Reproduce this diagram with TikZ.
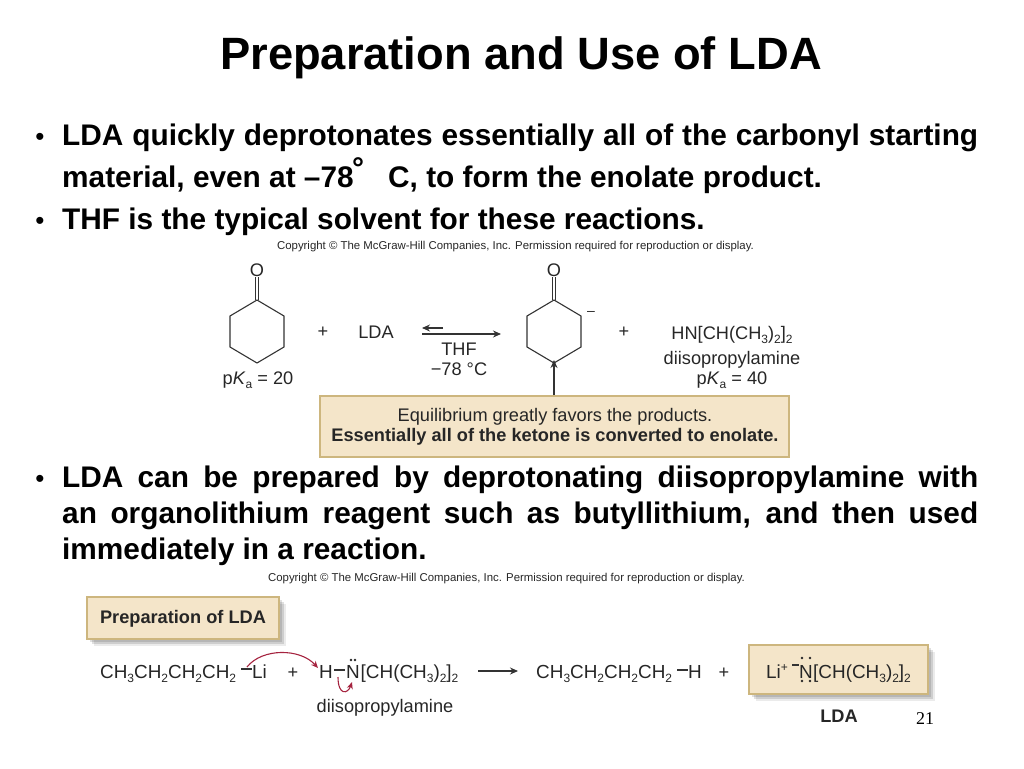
\documentclass[tikz,border=0pt]{standalone}
\usepackage{fontspec}
\setmainfont{Liberation Sans}
\newfontfamily\slidenumfont{Liberation Serif}
\usetikzlibrary{arrows.meta}
\usetikzlibrary{shadows}

\definecolor{boxtan}{HTML}{F4E5C9}
\definecolor{boxedge}{HTML}{CDB67E}
\definecolor{curlyred}{HTML}{A5233F}
\newcommand{\subs}[1]{\raisebox{-.24em}{\fontsize{12}{12}\selectfont #1}}
\newcommand{\pKa}[1]{p\textit{K}\subs{a} = #1}
\newcommand{\dimethyl}{[CH(CH\subs{3})\subs{2}]\subs{2}}

\tikzset{
	titletext/.style={anchor=base,inner sep=0pt,font=\fontsize{45.3}{45.3}\selectfont\bfseries},
	bodytext/.style={anchor=base west,inner sep=0pt,font=\fontsize{29.8}{29.8}\selectfont\bfseries},
	dot/.style={anchor=base,inner sep=0pt,font=\fontsize{26}{26}\selectfont},
	small/.style={anchor=base,inner sep=0pt,text=black!85,font=\fontsize{11.4}{11.4}\selectfont},
	chem/.style={anchor=base,inner sep=0pt,text=black!85,font=\fontsize{18.2}{18.2}\selectfont},
	chemrow/.style={anchor=base west,inner sep=0pt,text=black!85,font=\fontsize{18.9}{18.9}\selectfont},
	chembold/.style={chem,font=\fontsize{18.2}{18.2}\selectfont\bfseries},
	bond/.style={draw=black!80,line width=1.1pt},
	react/.style={bond,-{Stealth[length=8pt,width=7pt]}},
	curly/.style={draw=curlyred,line width=1.1pt,-{Stealth[length=7pt,width=6pt]}},
	pair/.style={circle,fill=black!85,inner sep=0pt,minimum size=2.6pt},
	tanbox/.style={fill=boxtan,draw=boxedge,line width=2pt},
	softshadow/.style={
		general shadow={shadow xshift=3pt,shadow yshift=-3pt,fill=black,opacity=.12},
		general shadow={shadow xshift=5pt,shadow yshift=-5pt,fill=black,opacity=.12},
		general shadow={shadow xshift=7pt,shadow yshift=-7pt,fill=black,opacity=.08}}
}

\begin{document}
\begin{tikzpicture}[x=1pt,y=-1pt]
	\useasboundingbox (0,0) rectangle (1024,768);
	
	\node[titletext] (title) at (521,70) {Preparation and Use of LDA};
	
	% bullets
	\node[dot] (bulleta) at (40,145) {•};
	\node[dot] (bulletb) at (40,229) {•};
	\node[dot] (bulletc) at (40,487) {•};
	
	\node[bodytext] (linea) at (62,145) {\makebox[916pt][s]{LDA quickly deprotonates essentially all of the carbonyl starting}};
	\node[bodytext] (lineb) at (62,187) {material, even at –78};
	\node[bodytext,font=\fontsize{30}{30}\selectfont\bfseries] (degree) at (352,178) {°};
	\node[bodytext] (linebb) at (388,187) {C, to form the enolate product.};
	\node[bodytext] (linec) at (62,229) {THF is the typical solvent for these reactions.};
	\node[bodytext] (lined) at (62,487) {\makebox[916pt][s]{LDA can be prepared by deprotonating diisopropylamine with}};
	\node[bodytext] (linee) at (62,523) {\makebox[916pt][s]{an organolithium reagent such as butyllithium, and then used}};
	\node[bodytext] (linef) at (62,559) {immediately in a reaction.};
	
	\node[small] (copya) at (515.5,249) {Copyright © The McGraw-Hill Companies, Inc. Permission required for reproduction or display.};
	\node[small] (copyb) at (506.5,581) {Copyright © The McGraw-Hill Companies, Inc. Permission required for reproduction or display.};
	
	% rings
	\foreach \ring/\cx in {ketone/257,enolate/554}{
		\node[chem] (\ring O) at (\cx,276) {O};
		\coordinate (\ring a) at (\cx,300);
		\coordinate (\ring b) at (\cx+27,316);
		\coordinate (\ring c) at (\cx+27,347);
		\coordinate (\ring d) at (\cx,363);
		\coordinate (\ring e) at (\cx-27,347);
		\coordinate (\ring f) at (\cx-27,316);
		\draw[bond] (\ring a) -- (\ring b) -- (\ring c) -- (\ring d) -- (\ring e) -- (\ring f) -- cycle;
		\draw[bond] ([xshift=-1.8pt]\ring a) -- ([xshift=-1.8pt,yshift=-1pt]\ring O.south);
		\draw[bond] ([xshift=1.8pt]\ring a) -- ([xshift=1.8pt,yshift=-1pt]\ring O.south);
	}
	\node[chem,font=\fontsize{14}{14}\selectfont] (minus) at (591,315) {–};
	
	% upper reaction
	\node[chem] (pkaa) at (258,384) {\pKa{20}};
	\node[chem] (plusa) at (323,337) {+};
	\node[chem] (lda) at (376,338) {LDA};
	\coordinate (eqleft) at (422,334);
	\coordinate (eqright) at (501,334);
	\coordinate (backright) at (443,328);
	\coordinate (backleft) at (422,328);
	\draw[react] (eqleft) -- (eqright);
	\draw[react] (backright) -- (backleft);
	\node[chem] (thf) at (459,355) {THF};
	\node[chem] (temp) at (459,375) {−78 °C};
	\node[chem] (plusb) at (624,337) {+};
	\node[chem] (amine) at (732,339) {HN\dimethyl};
	\node[chem] (aminename) at (732,364) {diisopropylamine};
	\node[chem] (pkab) at (732,384) {\pKa{40}};
	
	\node[tanbox,minimum width=469pt,minimum height=61pt,inner sep=0pt] (eqbox) at (554.5,426.5) {};
	\node[chem] (eqtexta) at (555,421) {Equilibrium greatly favors the products.};
	\node[chembold] (eqtextb) at (555,441) {Essentially all of the ketone is converted to enolate.};
	\draw[react] (eqbox.north -| enolated) -- ([yshift=3pt]enolated);
	
	% preparation
	\node[tanbox,softshadow,minimum width=192pt,minimum height=42pt,inner sep=0pt] (prepbox) at (183,618) {};
	\node[chembold] (preptext) at (183,623) {Preparation of LDA};
	
	\node[chemrow] (butyl) at (100,678) {CH\subs{3}CH\subs{2}CH\subs{2}CH\subs{2}};
	\coordinate (libonda) at (241,669);
	\coordinate (libondb) at (252,669);
	\coordinate (curlystart) at (247,667);
	\draw[bond] (libonda) -- (libondb);
	\node[chemrow] (li) at (252,678) {Li};
	\node[chem] (plusc) at (293,678) {+};
	\node[chemrow] (hatom) at (319,678) {H};
	\coordinate (hbonda) at (334,670);
	\coordinate (hbondb) at (345,670);
	\draw[bond] (hbonda) -- (hbondb);
	\node[chemrow] (natom) at (346,678) {N};
	\node[chemrow] (rest) at (360.5,678) {\dimethyl};
	\node[pair] (paira) at (351,660) {};
	\node[pair] (pairb) at (355,660) {};
	\node[chem] (aminelabel) at (385,712) {diisopropylamine};
	\draw[curly] (curlystart) .. controls (262,648) and (300,648) .. (318,668);
	\draw[curly] (338,677) .. controls (338,696) and (348,694) .. (352,682);
	
	\coordinate (arrowa) at (478,671);
	\coordinate (arrowb) at (518,671);
	\draw[react] (arrowa) -- (arrowb);
	
	\node[chemrow] (butane) at (536,678) {CH\subs{3}CH\subs{2}CH\subs{2}CH\subs{2}};
	\coordinate (hbondc) at (677,670);
	\coordinate (hbondd) at (688,670);
	\draw[bond] (hbondc) -- (hbondd);
	\node[chemrow] (hend) at (688,678) {H};
	\node[chem] (plusd) at (724,678) {+};
	
	\node[tanbox,softshadow,minimum width=179pt,minimum height=49pt,inner sep=0pt] (ldabox) at (838.5,669.5) {};
	\node[chemrow] (lithium) at (766,678) {Li\raisebox{.35em}{\fontsize{12}{12}\selectfont +}};
	\coordinate (ldabonda) at (792,665);
	\coordinate (ldabondb) at (799,665);
	\draw[bond] (ldabonda) -- (ldabondb);
	\node[chemrow] (ldan) at (799,678) {N};
	\node[chemrow] (ldarest) at (813,678) {\dimethyl};
	\node[pair] (pairc) at (802,658) {};
	\node[pair] (paird) at (810,658) {};
	\node[pair] (paire) at (802,681) {};
	\node[pair] (pairf) at (810,681) {};
	\node[chembold] (ldalabel) at (839,722) {LDA};
	
	\node[anchor=base,inner sep=0pt,font=\fontsize{18}{18}\selectfont\slidenumfont] (slidenum) at (925,724) {21};
\end{tikzpicture}
\end{document}
